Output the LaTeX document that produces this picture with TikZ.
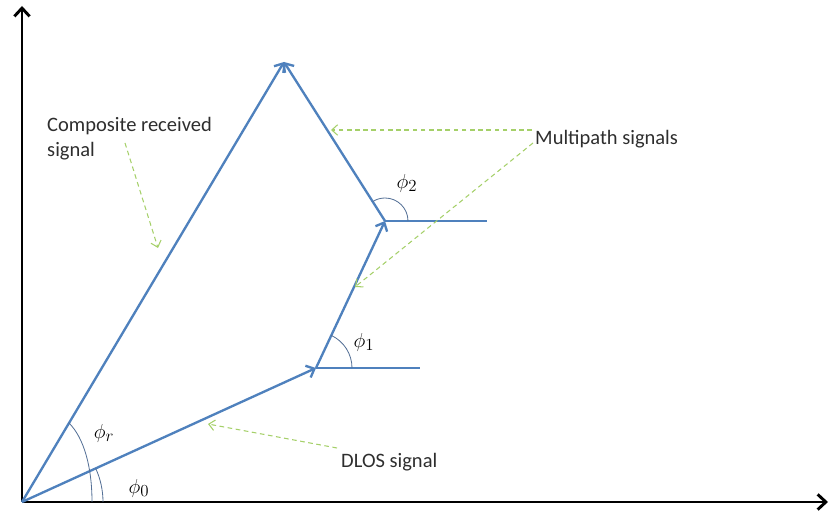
\documentclass[tikz,border=0pt]{standalone}
\usepackage{fontspec}
\setmainfont{Carlito}
\usetikzlibrary{arrows.meta}
\definecolor{vecblue}{RGB}{79,129,189}
\definecolor{arcblue}{RGB}{84,112,150}
\definecolor{notegreen}{RGB}{165,208,105}
\tikzset{
  axis/.style={line width=2.5pt,-{Straight Barb[length=7pt,width=13pt,line width=2.5pt]}},
  vec/.style={line width=2pt,vecblue,-{Straight Barb[length=6pt,width=11pt,line width=2pt]}},
  refline/.style={line width=1.1pt,vecblue},
  anglearc/.style={line width=0.7pt,arcblue},
  note/.style={notegreen,line width=0.9pt,dash pattern=on 4pt off 3pt,-{Straight Barb[length=5pt,width=9pt,line width=0.9pt]}},
  lbl/.style={inner sep=0pt,font=\fontsize{17.5}{21}\selectfont,text=black!82},
  ang/.style={inner sep=0pt,font=\fontsize{19}{22}\selectfont}
}
\begin{document}
\begin{tikzpicture}[x=0.03cm,y=0.03cm]
\useasboundingbox (0,0) rectangle (829,512);
% axes
\coordinate (O) at (22,10);
\coordinate (ytip) at (22,506);
\coordinate (xtip) at (828,10);
\draw[axis] (O) -- (ytip);
\draw[axis] (O) -- (xtip);
% vector chain
\coordinate (A) at (316,144);
\coordinate (B) at (385,291);
\coordinate (C) at (284,450);
\coordinate (Ah) at (420,144);
\coordinate (Bh) at (487,291);
\draw[refline] (A) -- (Ah);
\draw[refline] (B) -- (Bh);
\draw[vec] (O) -- (A);
\draw[vec] (A) -- (B);
\draw[vec] (B) -- (C);
\draw[vec] (O) -- (C);
% angle arcs
\draw[anglearc] (O) ++(81,0) arc[start angle=0,end angle=24.5,radius=81];
\coordinate (pr1) at (69,89);
\coordinate (pr2) at (92,10);
\draw[anglearc] (pr1) .. controls (84,74) and (92,45) .. (pr2);
\draw[anglearc] (A) ++(36,0) arc[start angle=0,end angle=64.9,radius=36];
\draw[anglearc] (B) ++(23,0) arc[start angle=0,end angle=122.4,radius=23];
% angle labels
\node[ang] (phr) at (104,79) {$\phi_r$};
\node[ang] (ph0) at (139,24) {$\phi_0$};
\node[ang] (ph1) at (364,170) {$\phi_1$};
\node[ang] (ph2) at (407,329) {$\phi_2$};
% annotations
\node[lbl,anchor=north west,align=left] (comp) at (47,395) {Composite received\\signal};
\node[lbl,anchor=west] (multi) at (535,373) {Multipath signals};
\node[lbl,anchor=west] (dlos) at (341,50) {DLOS signal};
\coordinate (c0) at (125,369);
\coordinate (c1) at (158,264);
\coordinate (m0) at (532,382);
\coordinate (m1) at (331,382);
\coordinate (n0) at (533,369);
\coordinate (m2) at (355,225);
\coordinate (d0) at (337,64);
\coordinate (d1) at (208,88);
\draw[note] (c0) -- (c1);
\draw[note] (m0) -- (m1);
\draw[note] (n0) -- (m2);
\draw[note] (d0) -- (d1);
\end{tikzpicture}
\end{document}
